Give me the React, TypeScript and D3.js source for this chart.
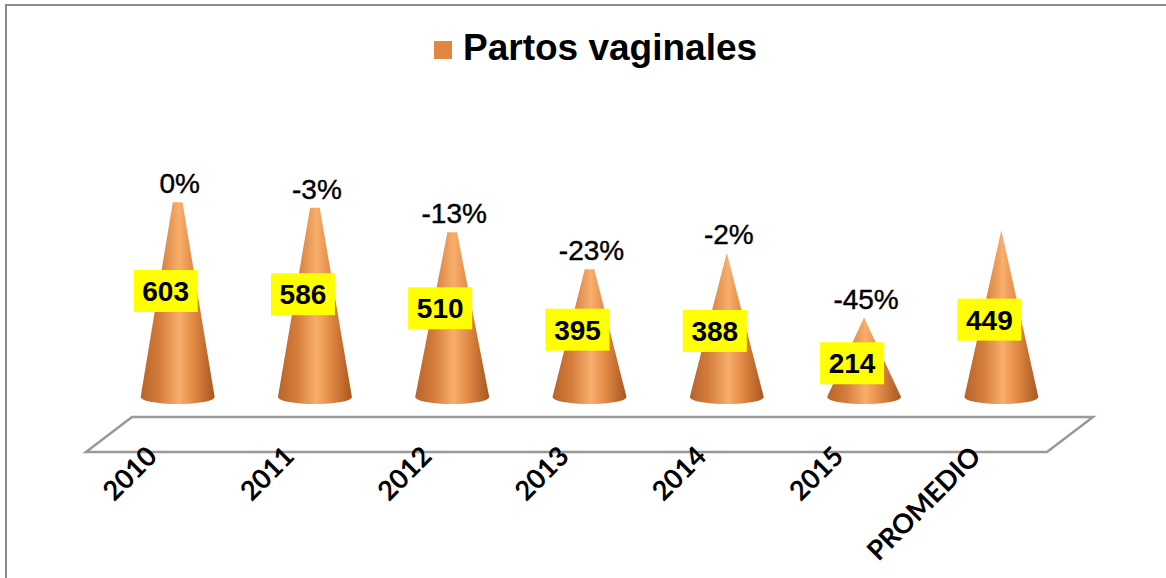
import React from "react";
import * as d3 from "d3";

const categories = ["2010", "2011", "2012", "2013", "2014", "2015", "PROMEDIO"];
const values = [603, 586, 510, 395, 388, 214, 449];
const changes = ["0%", "-3%", "-13%", "-23%", "-2%", "-45%", ""];
const seriesName = "Partos vaginales";

const W = 1166;
const H = 578;

export default function App() {
  const frontLeft = 86;
  const frontRight = 1047;
  const frontY = 452;
  const depthX = 46;
  const depthY = -35;
  const baseY = 397;
  const halfBase = 37;
  const ry = 7;

  const x = d3.scaleBand<string>().domain(categories).range([frontLeft, frontRight]).padding(0);
  const h = d3.scaleLinear().domain([0, 700]).range([0, 260]);
  const bw = x.bandwidth();

  const floor = [
    [frontLeft, frontY],
    [frontRight, frontY],
    [frontRight + depthX, frontY + depthY],
    [frontLeft + depthX, frontY + depthY],
  ];
  const line = d3.line();

  return (
    <svg width={W} height={H} style={{ position: "absolute", left: 0, top: 0, background: "#fff" }}>
      <defs>
        <linearGradient id="coneGrad" x1="0" x2="1" y1="0" y2="0">
          <stop offset="0%" stopColor="#b8632a" />
          <stop offset="25%" stopColor="#d37c3b" />
          <stop offset="52%" stopColor="#f8ae6c" />
          <stop offset="70%" stopColor="#e48c47" />
          <stop offset="100%" stopColor="#a9561f" />
        </linearGradient>
      </defs>
      <rect x={6} y={5} width={W + 20} height={H + 20} fill="#fff" stroke="#8c8c8c" strokeWidth={2} />

      {/* legend */}
      <rect x={434} y={41} width={18} height={18} fill="#e0883f" />
      <text x={463} y={60} fontFamily="Liberation Sans, Arial, sans-serif" fontWeight="bold" fontSize={37} fill="#000">
        {seriesName}
      </text>

      {/* floor */}
      <path d={line(floor as [number, number][]) + "Z"} fill="#fff" stroke="#999" strokeWidth={2.5} strokeLinejoin="miter" />

      {categories.map((c, i) => {
        const cx = (x(c) as number) + bw / 2 + depthX / 2;
        const full = h(values[i]);
        const trunc = i < 4 ? 0.13 : 0;
        const visH = full * (1 - trunc);
        const topY = baseY - visH;
        const topHalf = halfBase * trunc;
        const d =
          `M${cx - halfBase},${baseY} L${cx - topHalf},${topY} L${cx + topHalf},${topY} L${cx + halfBase},${baseY} ` +
          `A${halfBase},${ry} 0 0 1 ${cx - halfBase},${baseY} Z`;
        const labelY = baseY - full / 2 + 6;
        return (
          <g key={c}>
            <path d={d} fill="url(#coneGrad)" />
            <rect x={cx - 12 - 32} y={labelY - 21} width={64} height={42} fill="#ffff00" />
            <text
              x={cx - 12}
              y={labelY}
              dy="0.36em"
              textAnchor="middle"
              fontFamily="Liberation Sans, Arial, sans-serif"
              fontWeight="bold"
              fontSize={28}
              fill="#000"
            >
              {values[i]}
            </text>
            {changes[i] && (
              <text
                x={cx + 2}
                y={topY - 9}
                textAnchor="middle"
                fontFamily="Liberation Sans, Arial, sans-serif"
                fontSize={28}
                stroke="#000"
                strokeWidth={0.4}
                fill="#000"
              >
                {changes[i]}
              </text>
            )}
            <text
              transform={`translate(${(x(c) as number) + bw / 2 + 4},${458}) rotate(-45)`}
              textAnchor="end"
              fontFamily="Lato, sans-serif"
              fontWeight="bold"
              fontSize={27}
              fill="#000"
            >
              {c}
            </text>
          </g>
        );
      })}
    </svg>
  );
}
